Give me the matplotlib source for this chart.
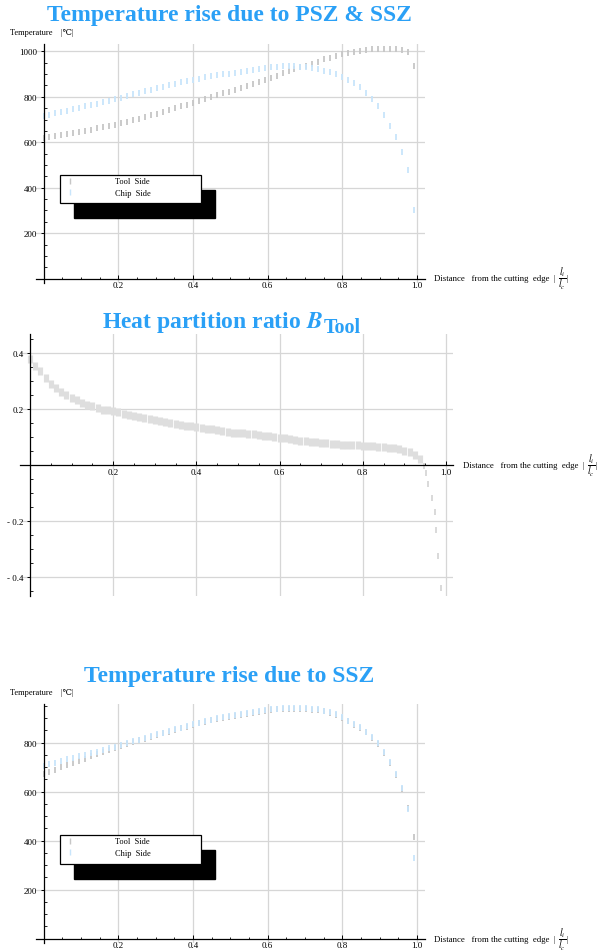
import matplotlib.pyplot as plt
import numpy as np
from matplotlib.lines import Line2D
from matplotlib.patches import Rectangle
from matplotlib.ticker import FormatStrFormatter

plt.rcParams['font.family'] = ['Liberation Serif', 'DejaVu Serif', 'DejaVu Sans']
plt.rcParams['mathtext.fontset'] = 'stix'

W, H = 604, 953

# distance from the cutting edge l_i / l_c
x_dist = np.round(np.arange(63) * 0.016, 3)

# temperature rise due to PSZ & SSZ
psz_tool = [617, 621, 626, 631, 636, 641, 646, 651, 656, 662,
            667, 673, 678, 684, 690, 697, 704, 711, 718, 726,
            734, 742, 750, 758, 765, 772, 780, 788, 797, 806,
            815, 823, 831, 839, 847, 856, 865, 874, 883, 893,
            905, 915, 923, 930, 937, 944, 955, 964, 972, 980,
            987, 992, 998, 1001, 1005, 1008, 1010, 1010, 1010, 1009,
            1006, 996, 936]
psz_chip = [714, 720, 727, 733, 739, 746, 752, 758, 764, 770,
            776, 782, 789, 796, 803, 810, 817, 824, 831, 838,
            845, 851, 857, 863, 869, 875, 880, 885, 890, 894,
            898, 902, 906, 910, 914, 918, 922, 926, 929, 932,
            935, 936, 935, 931, 929, 926, 922, 915, 907, 899,
            886, 875, 862, 841, 816, 790, 758, 720, 673, 622,
            556, 478, 302]

# temperature rise due to SSZ
ssz_tool = [672, 681, 690, 699, 708, 717, 726, 735, 744, 753,
            762, 771, 779, 787, 795, 803, 810, 817, 824, 831,
            838, 845, 852, 859, 866, 873, 879, 885, 891, 896,
            901, 906, 911, 915, 919, 923, 927, 931, 934, 936,
            937, 938, 938, 937, 937, 935, 933, 928, 921, 914,
            901, 887, 873, 860, 842, 819, 795, 758, 717, 669,
            611, 535, 414]
ssz_chip = [706, 712, 719, 725, 732, 738, 745, 751, 758, 764,
            771, 777, 784, 792, 799, 806, 813, 820, 827, 834,
            841, 848, 855, 862, 869, 876, 882, 888, 894, 899,
            904, 909, 914, 918, 922, 926, 930, 934, 937, 939,
            940, 941, 941, 940, 940, 938, 936, 931, 924, 917,
            904, 890, 876, 863, 845, 822, 798, 761, 720, 672,
            614, 530, 328]

# heat partition ratio B_Tool
b_x = np.round(np.arange(76) * 0.0125, 4)
b_tool = [0.378, 0.355, 0.336, 0.312, 0.290, 0.276, 0.262, 0.250, 0.241, 0.232,
          0.223, 0.216, 0.209, 0.203, 0.198, 0.195, 0.192, 0.188, 0.183, 0.178,
          0.175, 0.171, 0.167, 0.163, 0.159, 0.156, 0.152, 0.149, 0.146, 0.143,
          0.140, 0.138, 0.135, 0.133, 0.130, 0.127, 0.124, 0.121, 0.118, 0.116,
          0.114, 0.113, 0.111, 0.109, 0.107, 0.105, 0.102, 0.100, 0.098, 0.096,
          0.093, 0.090, 0.087, 0.085, 0.083, 0.081, 0.080, 0.078, 0.076, 0.074,
          0.073, 0.072, 0.071, 0.070, 0.069, 0.068, 0.067, 0.065, 0.063, 0.061,
          0.059, 0.056, 0.051, 0.045, 0.037, 0.022]
tail_x = [0.948, 0.953, 0.958, 0.966, 0.973, 0.977, 0.981, 0.987]
tail_b = [-0.005, -0.030, -0.068, -0.118, -0.168, -0.232, -0.325, -0.440]

legend_labels = ['Tool  Side', 'Chip  Side']

GRAY = '#c6c6c6'
BLUE = '#c8e5fb'
TITLE = '#2aa0f6'

fig = plt.figure(figsize=(W / 100, H / 100), dpi=100)


def axes_px(left, top, right, bottom):
    return fig.add_axes([left / W, 1 - bottom / H, (right - left) / W, (bottom - top) / H])


def mma_style(ax, xticks, yticks, xminor, yminor):
    ax.set_xticks(xticks)
    ax.set_yticks(yticks)
    ax.set_xticks(xminor, minor=True)
    ax.set_yticks(yminor, minor=True)
    ax.spines[['top', 'right']].set_visible(False)
    ax.spines['left'].set_position(('data', 0))
    ax.spines['bottom'].set_position(('data', 0))
    for s in ['left', 'bottom']:
        ax.spines[s].set_linewidth(0.9)
    ax.grid(True, which='major', color='#d6d6d6', lw=0.9)
    ax.set_axisbelow(True)
    ax.tick_params(which='major', direction='in', length=3, width=0.7, labelsize=6.5, pad=2)
    ax.tick_params(which='minor', direction='in', length=1.8, width=0.6)
    ax.tick_params(axis='y', which='major', direction='out', length=2.5)
    ax.xaxis.set_major_formatter(FormatStrFormatter('%.1f'))


def legend_px(ax, fx0, fy0, fx1, fy1):
    # Mathematica style legend: black drop shadow + white framed box
    ax.add_patch(Rectangle(((fx0 + 14) / W, 1 - (fy1 + 15) / H), (fx1 - fx0) / W, (fy1 - fy0) / H,
                           transform=fig.transFigure, facecolor='black', edgecolor='black',
                           zorder=3, clip_on=False))
    ax.add_patch(Rectangle((fx0 / W, 1 - fy1 / H), (fx1 - fx0) / W, (fy1 - fy0) / H,
                           transform=fig.transFigure, facecolor='white', edgecolor='black',
                           lw=0.9, zorder=4, clip_on=False))
    handles = [Line2D([], [], ls='none', marker='|', ms=4, mew=1.0, color=GRAY),
               Line2D([], [], ls='none', marker='|', ms=4, mew=1.0, color=BLUE)]
    ax.legend(handles, legend_labels, loc='upper left',
              bbox_to_anchor=((fx0 + 6) / W, 1 - (fy0 + 2.5) / H), bbox_transform=fig.transFigure,
              frameon=False, fontsize=6, handlelength=1, handletextpad=4.9, borderpad=0,
              labelspacing=0.45, borderaxespad=0)


def xlabel_px(x, y):
    fig.text(x / W, 1 - y / H, 'Distance   from the cutting  edge  |', fontsize=6.3, va='center')
    fig.text((x + 124) / W, 1 - y / H, r'$\dfrac{l_i}{l_c}$', fontsize=7, va='center')
    fig.text((x + 132) / W, 1 - y / H, '|', fontsize=6.3, va='center')


# ---- plot 1 ----
ax1 = axes_px(36, 45, 424.5, 283.7)
ax1.set_xlim(-0.0201, 1.0201)
ax1.set_ylim(-17.6, 1032)
mma_style(ax1, [0.2, 0.4, 0.6, 0.8, 1.0], [200, 400, 600, 800, 1000],
          np.arange(0.05, 1.01, 0.05), np.arange(50, 1001, 50))
ax1.plot(x_dist, psz_tool, ls='none', marker='|', ms=5, mew=1.3, color=GRAY)
ax1.plot(x_dist, psz_chip, ls='none', marker='|', ms=5, mew=1.3, color=BLUE)
legend_px(ax1, 60, 176, 200.7, 204)
fig.text(229 / W, 1 - 21 / H, 'Temperature rise due to PSZ & SSZ', ha='center', va='baseline',
         fontsize=17, fontweight='bold', color=TITLE)
fig.text(10 / W, 1 - 33 / H, 'Temperature    |\u2103|', fontsize=6, va='center')
xlabel_px(434, 279)

# ---- plot 2 ----
ax2 = axes_px(20, 335, 453, 597)
ax2.set_xlim(-0.024, 1.017)
ax2.set_ylim(-0.468, 0.468)
mma_style(ax2, [0.2, 0.4, 0.6, 0.8, 1.0], [-0.4, -0.2, 0.2, 0.4],
          np.arange(0.05, 1.01, 0.05), np.arange(-0.45, 0.46, 0.05))
ax2.set_yticklabels(['- 0.4', '- 0.2', '0.2', '0.4'])
ax2.plot(b_x, b_tool, ls='none', marker='|', ms=5.2, mew=3.7, color='#dedede')
ax2.plot(tail_x, tail_b, ls='none', marker='|', ms=5, mew=1.1, color='#cfcfcf')
t2 = fig.text(102 / W, 1 - 328 / H, r'Heat partition ratio $\mathbfit{B}$', ha='left',
              va='baseline', fontsize=17, fontweight='bold', color=TITLE)
fig.canvas.draw()
bb = t2.get_window_extent(renderer=fig.canvas.get_renderer())
fig.text(bb.x1 / W + 1 / W, 1 - 333 / H, 'Tool', ha='left', va='baseline',
         fontsize=14.5, fontweight='bold', color=TITLE)
xlabel_px(463, 466)

# ---- plot 3 ----
ax3 = axes_px(36, 705, 424.5, 944)
ax3.set_xlim(-0.0201, 1.0201)
ax3.set_ylim(-17.6, 958)
mma_style(ax3, [0.2, 0.4, 0.6, 0.8, 1.0], [200, 400, 600, 800],
          np.arange(0.05, 1.01, 0.05), np.arange(50, 951, 50))
ax3.plot(x_dist, ssz_tool, ls='none', marker='|', ms=5, mew=1.3, color=GRAY)
ax3.plot(x_dist, ssz_chip, ls='none', marker='|', ms=5, mew=1.3, color=BLUE)
legend_px(ax3, 60, 836, 200.7, 865)
fig.text(229 / W, 1 - 682 / H, 'Temperature rise due to SSZ', ha='center', va='baseline',
         fontsize=17, fontweight='bold', color=TITLE)
fig.text(10 / W, 1 - 693 / H, 'Temperature    |\u2103|', fontsize=6, va='center')
xlabel_px(434, 940)

fig.savefig('out.png', dpi=100)
